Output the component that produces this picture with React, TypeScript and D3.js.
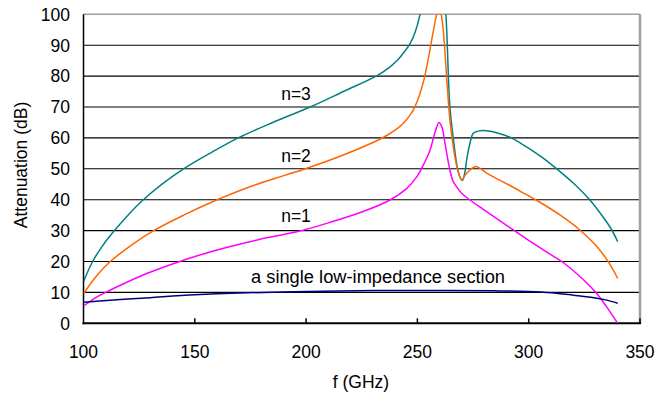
import React, { useEffect, useRef } from 'react';
import * as d3 from 'd3';

// values
const freqN3 = [100, 104.1, 108, 113.4, 120, 126.1, 135, 144.8, 157, 169.5, 185, 201.8, 217, 231.7, 237, 241, 244, 246.7, 249, 251.2, 253, 256, 259, 261.5, 262.8, 264.6, 266.1, 267.6, 269, 270.2, 271.5, 272.1, 273.6, 275.1, 278, 281.1, 286, 291.6, 296.1, 305.1, 312.6, 320, 327.5, 333.5, 337, 340];
const n3 = [13.5, 20, 24.5, 29.6, 35, 39.5, 44.9, 49.9, 55.1, 60, 65, 70, 75.1, 80.1, 82.6, 85.1, 87.7, 90.5, 94.3, 100, 108, 122, 128, 110, 100, 70, 60, 51.8, 47.5, 46.2, 49.5, 52.8, 58.2, 61.5, 62.3, 62.3, 61.6, 60.2, 58.4, 54.2, 50, 45.4, 39.9, 34.3, 30.6, 26.4];

const freqN2 = [100, 105, 111.9, 120, 130.6, 145, 159.8, 174.8, 190, 198.7, 215, 234, 240, 244, 247, 249, 251, 253, 255, 257, 258.5, 259.5, 260.5, 261.6, 263.1, 264.6, 266.1, 267.6, 269.9, 271.5, 273.6, 275.9, 278, 281.1, 291.6, 296.1, 304.3, 315, 323, 330, 335.8, 340];
const n2 = [9.5, 14.6, 19.9, 24.5, 29.6, 35, 39.9, 44.2, 47.8, 49.8, 54, 59.9, 62.5, 65, 67.7, 70.3, 74, 79, 86, 94, 99.5, 102, 100.5, 95, 80, 65.8, 57.2, 51.2, 46.4, 48, 49.6, 50.7, 50.2, 48.6, 44.6, 42.8, 39.5, 34.6, 30.2, 25.3, 19.9, 14.5];

const freqN1 = [100, 104, 109.7, 118, 128.4, 141.9, 155, 168, 179.3, 195.8, 210, 225, 237.7, 245, 249.7, 252.5, 255.7, 258, 259.7, 261, 262.4, 264.6, 266, 267.6, 270, 273.6, 279.6, 286, 293.1, 300, 308, 315.6, 322, 327, 330.5, 335, 340];
const n1 = [5.6, 7.6, 9.9, 12.8, 16.1, 19.7, 22.7, 25.2, 27.2, 29.6, 32.5, 36, 39.9, 43.5, 47.4, 51, 56.1, 62, 65, 63.5, 58.2, 49.6, 46, 44.2, 42, 39.9, 36.9, 33.7, 30.2, 26.8, 23.1, 19.6, 15.8, 12.4, 9.7, 5.3, 0];

const freqSingle = [100, 115, 130, 150, 170, 200, 230, 260, 285, 300, 310, 320, 330, 335, 340];
const single = [6.8, 7.6, 8.3, 9.2, 9.8, 10.3, 10.6, 10.6, 10.5, 10.3, 9.9, 9.1, 8.2, 7.5, 6.5];

const xTicks = [100, 150, 200, 250, 300, 350];
const yTicks = [0, 10, 20, 30, 40, 50, 60, 70, 80, 90, 100];

const series = [
  { name: 'n=3', f: freqN3, v: n3, color: '#008080' },
  { name: 'n=2', f: freqN2, v: n2, color: '#ff6600' },
  { name: 'n=1', f: freqN1, v: n1, color: '#ff00ff' },
  { name: 'single', f: freqSingle, v: single, color: '#000080' },
];

const labels = [
  { text: 'n=3', x: 296, y: 100 },
  { text: 'n=2', x: 296, y: 161.5 },
  { text: 'n=1', x: 296, y: 222 },
  { text: 'a single low-impedance section', x: 378, y: 283 },
];

const FONT = '"Liberation Sans", Arial, sans-serif';
const FS = 17.5;

const App = () => {
  const ref = useRef<SVGSVGElement>(null);

  useEffect(() => {
    const svg = d3.select(ref.current);
    svg.selectAll('*').remove();

    const x = d3.scaleLinear().domain([100, 350]).range([83.5, 640]);
    const y = d3.scaleLinear().domain([0, 100]).range([323.3, 14.3]);

    svg.append('rect').attr('width', 667).attr('height', 396).attr('fill', '#fff');

    svg.append('defs').append('clipPath').attr('id', 'plot')
      .append('rect')
      .attr('x', x(100)).attr('y', y(100))
      .attr('width', x(350) - x(100)).attr('height', y(0) - y(100));

    // gridlines
    svg.append('g').selectAll('line')
      .data(yTicks.filter((t) => t > 0 && t < 100))
      .enter().append('line')
      .attr('x1', x(100)).attr('x2', x(350))
      .attr('y1', (d) => y(d)).attr('y2', (d) => y(d))
      .attr('stroke', '#000').attr('stroke-width', 1.1);

    // frame
    svg.append('line').attr('x1', x(100)).attr('x2', x(350)).attr('y1', y(100)).attr('y2', y(100))
      .attr('stroke', '#a0a0a0').attr('stroke-width', 1.5);
    svg.append('line').attr('x1', x(350)).attr('x2', x(350)).attr('y1', y(100)).attr('y2', y(0))
      .attr('stroke', '#a0a0a0').attr('stroke-width', 2.5);
    svg.append('line').attr('x1', x(100)).attr('x2', x(100)).attr('y1', y(100)).attr('y2', y(0) + 1)
      .attr('stroke', '#000').attr('stroke-width', 1.5);
    svg.append('line').attr('x1', x(100) - 1).attr('x2', x(350) + 1).attr('y1', y(0)).attr('y2', y(0))
      .attr('stroke', '#000').attr('stroke-width', 2);

    svg.append('g').selectAll('line')
      .data(xTicks.slice(1))
      .enter().append('line')
      .attr('x1', (d) => x(d)).attr('x2', (d) => x(d))
      .attr('y1', y(0)).attr('y2', y(0) - 5)
      .attr('stroke', '#000').attr('stroke-width', 1.5);

    // curves
    const line = d3.line<[number, number]>()
      .x((d) => x(d[0]))
      .y((d) => y(d[1]))
      .curve(d3.curveCatmullRom.alpha(0.5));

    const g = svg.append('g').attr('clip-path', 'url(#plot)');
    series.forEach((s) => {
      g.append('path')
        .attr('d', line(s.f.map((f, i) => [f, s.v[i]] as [number, number])))
        .attr('fill', 'none')
        .attr('stroke', s.color)
        .attr('stroke-width', 1.5);
    });

    // tick labels
    svg.append('g').selectAll('text')
      .data(yTicks)
      .enter().append('text')
      .attr('x', 70).attr('y', (d) => y(d)).attr('dy', '0.36em')
      .attr('text-anchor', 'end')
      .attr('font-family', FONT).attr('font-size', FS)
      .text((d) => d);

    svg.append('g').selectAll('text')
      .data(xTicks)
      .enter().append('text')
      .attr('x', (d) => x(d)).attr('y', 357.5)
      .attr('text-anchor', 'middle')
      .attr('font-family', FONT).attr('font-size', FS)
      .text((d) => d);

    svg.append('text')
      .attr('x', 361).attr('y', 388)
      .attr('text-anchor', 'middle')
      .attr('font-family', FONT).attr('font-size', FS)
      .text('f (GHz)');

    svg.append('text')
      .attr('transform', 'translate(27,165) rotate(-90)')
      .attr('text-anchor', 'middle')
      .attr('font-family', FONT).attr('font-size', FS)
      .text('Attenuation (dB)');

    svg.append('g').selectAll('text')
      .data(labels)
      .enter().append('text')
      .attr('x', (d) => d.x).attr('y', (d) => d.y)
      .attr('text-anchor', 'middle')
      .attr('font-family', FONT).attr('font-size', FS)
      .attr('textLength', (d) => (d.text.length > 5 ? 254 : null))
      .attr('lengthAdjust', 'spacingAndGlyphs')
      .text((d) => d.text);
  }, []);

  return (
    <svg
      ref={ref}
      width={667}
      height={396}
      style={{ position: 'absolute', left: 0, top: 0, display: 'block' }}
    />
  );
};

export default App;
